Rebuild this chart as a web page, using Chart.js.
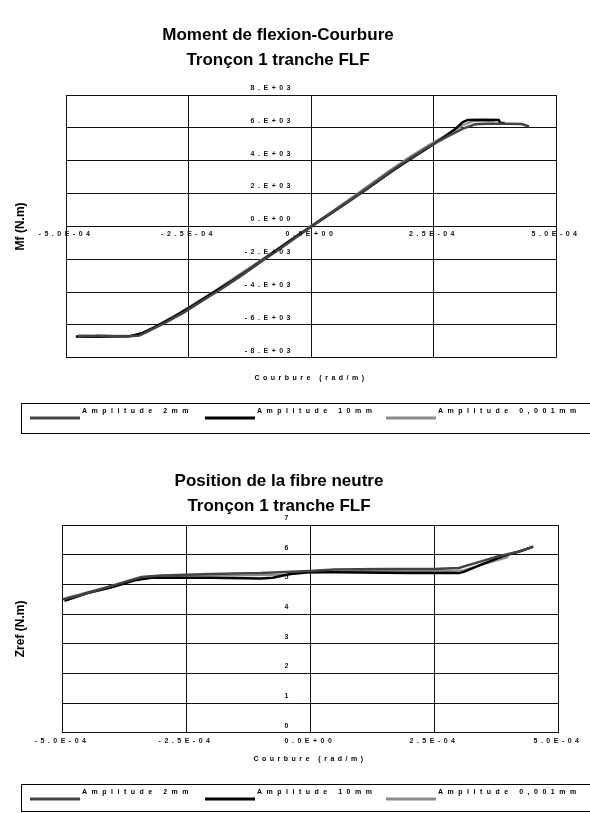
<!DOCTYPE html>
<html>
<head>
<meta charset="utf-8">
<title>Tronçon 1 tranche FLF</title>
<script src="https://cdn.jsdelivr.net/npm/chart.js@4.4.1/dist/chart.umd.min.js"></script>
<style>
  html, body { margin: 0; padding: 0; background: #fff; overflow: hidden; }
  .wrap { position: absolute; left: 0; width: 590px; }
  #topWrap { top: 0; height: 445px; }
  #bottomWrap { top: 445px; height: 368px; }
</style>
</head>
<body>
<div class="wrap" id="topWrap"><canvas id="mfChart"></canvas></div>
<div class="wrap" id="bottomWrap"><canvas id="zrefChart"></canvas></div>
<script>
// --- data ---
const seriesLabels = ['Amplitude 2mm', 'Amplitude 10mm', 'Amplitude 0,001mm'];

const curvTickLabels = ['-5.0E-04', '-2.5E-04', '0.0E+00', '2.5E-04', '5.0E-04'];
const mfTickLabels = ['-8.E+03', '-6.E+03', '-4.E+03', '-2.E+03', '0.E+00', '2.E+03', '4.E+03', '6.E+03', '8.E+03'];
const zrefTickLabels = ['0', '1', '2', '3', '4', '5', '6', '7'];

// Moment de flexion - courbure
const mfCurv2mm = [-4.75e-4, -4.2e-4, -3.8e-4, -3.5e-4, -3.3e-4, -3.0e-4, -2.6e-4, -2.2e-4, -1.8e-4, -1.4e-4, -1.0e-4, -0.6e-4, -0.2e-4, 0, 0.4e-4, 0.8e-4, 1.2e-4, 1.6e-4, 2.0e-4, 2.4e-4, 2.8e-4, 3.1e-4, 3.35e-4, 3.6e-4, 4.0e-4, 4.3e-4, 4.45e-4];
const mf2mm = [-6650, -6680, -6700, -6650, -6350, -5900, -5250, -4500, -3750, -2950, -2100, -1300, -450, 0, 800, 1600, 2450, 3300, 4100, 4850, 5500, 5950, 6220, 6250, 6250, 6230, 6080];

const mfCurv10mm = [-4.8e-4, -4.4e-4, -4.0e-4, -3.7e-4, -3.45e-4, -3.2e-4, -2.8e-4, -2.4e-4, -2.0e-4, -1.6e-4, -1.2e-4, -0.8e-4, -0.4e-4, 0, 0.4e-4, 0.8e-4, 1.2e-4, 1.6e-4, 2.0e-4, 2.4e-4, 2.7e-4, 2.95e-4, 3.1e-4, 3.2e-4, 3.5e-4, 3.83e-4, 3.86e-4, 3.95e-4];
const mf10mm = [-6700, -6720, -6700, -6690, -6500, -6150, -5500, -4800, -4050, -3300, -2500, -1650, -820, -20, 780, 1580, 2400, 3250, 4050, 4800, 5400, 5950, 6350, 6480, 6490, 6480, 6300, 6290];

const mfCurv0001mm = [-4.4e-4, -4.0e-4, -3.6e-4, -3.35e-4, -3.1e-4, -2.7e-4, -2.3e-4, -1.9e-4, -1.5e-4, -1.1e-4, -0.7e-4, -0.3e-4, 0, 0.4e-4, 0.8e-4, 1.2e-4, 1.6e-4, 2.0e-4, 2.4e-4, 2.8e-4, 3.1e-4, 3.3e-4, 3.6e-4, 3.75e-4];
const mf0001mm = [-6620, -6650, -6640, -6450, -6000, -5300, -4550, -3800, -3000, -2200, -1400, -580, 30, 860, 1700, 2550, 3400, 4200, 4950, 5650, 6150, 6400, 6420, 6400];

// Position de la fibre neutre
const zCurv2mm = [-4.98e-4, -4.6e-4, -4.2e-4, -3.8e-4, -3.4e-4, -3.0e-4, -2.0e-4, -1.0e-4, 0, 0.5e-4, 1.5e-4, 2.5e-4, 3.0e-4, 3.4e-4, 3.8e-4, 4.2e-4, 4.5e-4];
const zref2mm = [4.5, 4.65, 4.85, 5.05, 5.25, 5.3, 5.35, 5.38, 5.45, 5.5, 5.52, 5.52, 5.55, 5.75, 5.95, 6.1, 6.27];

const zCurv10mm = [-4.95e-4, -4.5e-4, -4.0e-4, -3.5e-4, -3.2e-4, -2.0e-4, -1.0e-4, -0.75e-4, -0.4e-4, 0, 1.0e-4, 2.0e-4, 3.0e-4, 3.1e-4, 3.5e-4, 3.9e-4, 4.3e-4, 4.5e-4];
const zref10mm = [4.45, 4.7, 4.9, 5.15, 5.22, 5.22, 5.2, 5.22, 5.35, 5.42, 5.4, 5.38, 5.38, 5.42, 5.7, 5.95, 6.15, 6.27];

const zCurv0001mm = [-4.9e-4, -4.4e-4, -3.9e-4, -3.5e-4, -2.5e-4, -1.5e-4, -0.5e-4, 0, 1.0e-4, 2.0e-4, 2.9e-4, 3.1e-4, 3.5e-4, 4.0e-4];
const zref0001mm = [4.55, 4.78, 5.0, 5.2, 5.3, 5.3, 5.32, 5.4, 5.45, 5.45, 5.45, 5.48, 5.68, 5.92];

// --- styles ---
const seriesColors = ['#444444', '#000000', '#8c8c8c'];
const seriesWidths = [2.5, 2.5, 2];
const legendItemX = [30, 205, 386];
const gridColor = '#111';
const FONT = '"Liberation Sans", Arial, sans-serif';

Chart.defaults.font.family = FONT;
Chart.defaults.color = '#111';

function toPoints(xs, ys) {
    return xs.map((x, i) => ({ x: x, y: ys[i] }));
}

function makeDatasets(pairs) {
    return pairs.map((p, i) => ({
        label: seriesLabels[i],
        data: toPoints(p[0], p[1]),
        borderColor: seriesColors[i],
        borderWidth: seriesWidths[i],
        pointRadius: 0,
        tension: 0,
        fill: false
    }));
}

// tick labels + legend are drawn with wide letter spacing, like the scan
const scanLook = {
    id: 'scanLook',
    beforeDraw(chart) {
        chart.ctx.letterSpacing = '0px';
    },
    afterDatasetsDraw(chart) {
        chart.ctx.letterSpacing = '3.5px';
    },
    afterDraw(chart, args, opts) {
        const ctx = chart.ctx;
        ctx.save();
        ctx.letterSpacing = '4.5px';
        ctx.strokeStyle = '#000';
        ctx.lineWidth = 1;
        ctx.strokeRect(21.5, opts.top + 0.5, 620, opts.height);
        chart.data.datasets.forEach((ds, i) => {
            const x0 = legendItemX[i];
            ctx.strokeStyle = ds.borderColor;
            ctx.lineWidth = 3;
            ctx.beginPath();
            ctx.moveTo(x0, opts.top + 15);
            ctx.lineTo(x0 + 50, opts.top + 15);
            ctx.stroke();
            ctx.fillStyle = '#000';
            ctx.font = 'bold 7px ' + FONT;
            ctx.textBaseline = 'middle';
            ctx.textAlign = 'left';
            ctx.fillText(ds.label, x0 + 52, opts.top + 8);
        });
        ctx.restore();
        ctx.letterSpacing = '0px';
    }
};

function curvAxis(position, padding) {
    return {
        type: 'linear',
        position: position,
        min: -5e-4,
        max: 5e-4,
        grid: { color: gridColor, lineWidth: 1, drawTicks: false },
        border: { color: gridColor },
        ticks: {
            stepSize: 2.5e-4,
            autoSkip: false,
            maxRotation: 0,
            padding: padding,
            z: 1,
            color: '#111',
            font: { size: 7, weight: 'bold' },
            callback: (v, i) => curvTickLabels[i]
        }
    };
}

function titleAxis(axis, position, text, titleFont, titlePadding, onTop) {
    return {
        type: 'linear',
        axis: axis,
        position: position,
        weight: 1,
        grid: { display: false, drawTicks: false, z: onTop ? 1 : -1 },
        border: { display: false },
        ticks: { display: false },
        title: { display: true, text: text, color: '#000', font: titleFont, padding: titlePadding }
    };
}

new Chart(document.getElementById('mfChart'), {
    type: 'line',
    data: {
        datasets: makeDatasets([[mfCurv2mm, mf2mm], [mfCurv10mm, mf10mm], [mfCurv0001mm, mf0001mm]])
    },
    options: {
        responsive: true,
        maintainAspectRatio: false,
        animation: false,
        layout: { padding: { left: 0, right: 34, top: 0, bottom: 60 } },
        scales: {
            x: curvAxis('center', 3),
            y: {
                type: 'linear',
                position: 'center',
                min: -8000,
                max: 8000,
                grid: { color: gridColor, lineWidth: 1, drawTicks: false },
                border: { color: gridColor },
                ticks: {
                    stepSize: 2000,
                    padding: 17,
                    labelOffset: -7,
                    z: 1,
                    color: '#111',
                    font: { size: 7, weight: 'bold' },
                    callback: (v, i) => mfTickLabels[i]
                }
            },
            yTitle: titleAxis('y', 'left', 'Mf (N.m)', { size: 12, weight: 'bold' }, { top: 13, bottom: 38.6 }, false),
            xTitle: titleAxis('x', 'bottom', 'Courbure (rad/m)', { size: 7, weight: 'bold' }, { top: 15.8, bottom: 3 }, true)
        },
        plugins: {
            legend: { display: false },
            tooltip: { enabled: false },
            title: {
                display: true,
                text: ['Moment de flexion-Courbure', 'Tronçon 1 tranche FLF'],
                color: '#000',
                font: { size: 17, weight: 'bold', lineHeight: 25 / 17 },
                padding: { top: 22.5, bottom: 22.5 }
            },
            scanLook: { top: 403, height: 30 }
        }
    },
    plugins: [scanLook]
});

new Chart(document.getElementById('zrefChart'), {
    type: 'line',
    data: {
        datasets: makeDatasets([[zCurv2mm, zref2mm], [zCurv10mm, zref10mm], [zCurv0001mm, zref0001mm]])
    },
    options: {
        responsive: true,
        maintainAspectRatio: false,
        animation: false,
        layout: { padding: { left: 0, right: 32, top: 0, bottom: 47 } },
        scales: {
            x: curvAxis('bottom', 4),
            y: {
                type: 'linear',
                position: 'center',
                min: 0,
                max: 7,
                grid: { color: gridColor, lineWidth: 1, drawTicks: false },
                border: { color: gridColor },
                ticks: {
                    stepSize: 1,
                    padding: 18,
                    labelOffset: -7,
                    z: 1,
                    color: '#111',
                    font: { size: 7, weight: 'bold' },
                    callback: (v, i) => zrefTickLabels[i]
                }
            },
            yTitle: titleAxis('y', 'left', 'Zref (N.m)', { size: 12, weight: 'bold' }, { top: 13, bottom: 34.6 }, false),
            xTitle: titleAxis('x', 'bottom', 'Courbure (rad/m)', { size: 7, weight: 'bold' }, { top: 5.4, bottom: 3 }, true)
        },
        plugins: {
            legend: { display: false },
            tooltip: { enabled: false },
            title: {
                display: true,
                text: ['Position de la fibre neutre', 'Tronçon 1 tranche FLF'],
                color: '#000',
                font: { size: 17, weight: 'bold', lineHeight: 25 / 17 },
                padding: { top: 23.5, bottom: 6.5 }
            },
            scanLook: { top: 339, height: 27 }
        }
    },
    plugins: [scanLook]
});
</script>
</body>
</html>
